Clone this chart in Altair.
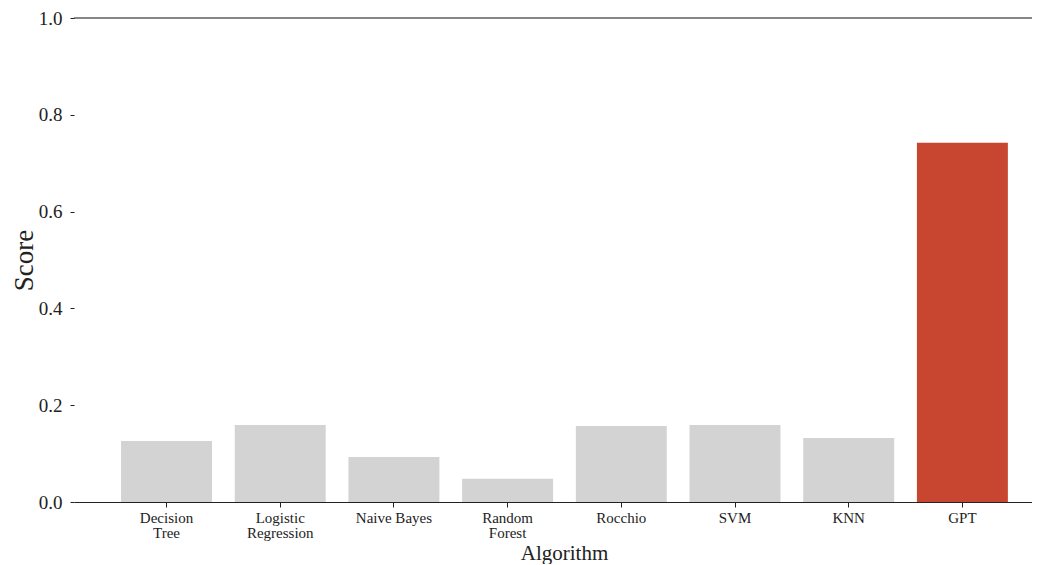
import altair as alt
import pandas as pd

algorithms = ["Decision\nTree", "Logistic\nRegression", "Naive Bayes", "Random\nForest",
              "Rocchio", "SVM", "KNN", "GPT"]
scores = [0.126, 0.159, 0.093, 0.048, 0.157, 0.159, 0.132, 0.742]
colors = ["#d3d3d3"] * 7 + ["#c8452f"]

df = pd.DataFrame({"Algorithm": algorithms, "Score": scores, "color": colors})
top = pd.DataFrame({"y": [1.0]})

FONT = "Liberation Serif"

bars = alt.Chart(df).mark_bar().encode(
    x=alt.X("Algorithm:N", sort=algorithms,
            scale=alt.Scale(paddingInner=0.2, paddingOuter=0.313, align=0.661),
            axis=alt.Axis(title="Algorithm", labelAngle=0,
                          labelExpr="split(datum.label, '\\n')",
                          labelFont=FONT, labelFontSize=15, labelColor="#222",
                          labelLineHeight=15, labelPadding=3,
                          tickSize=5, tickColor="#222", domainColor="#222",
                          titleFont=FONT, titleFontSize=21, titleFontWeight="normal",
                          titleColor="#222", titleX=490, titleAlign="center",
                          titleY=57, titleBaseline="alphabetic")),
    y=alt.Y("Score:Q", scale=alt.Scale(domain=[0, 1.0], nice=False),
            axis=alt.Axis(title="Score", values=[0, 0.2, 0.4, 0.6, 0.8, 1.0],
                          format=".1f", domain=False, grid=False,
                          labelFont=FONT, labelFontSize=19, labelColor="#222",
                          labelPadding=8, tickSize=4, tickColor="#222",
                          titleFont=FONT, titleFontSize=27, titleFontWeight="normal",
                          titleColor="#222", titleX=-42, titleBaseline="alphabetic")),
    color=alt.Color("color:N", scale=None, legend=None),
)

rule = alt.Chart(top).mark_rule(color="#111", strokeWidth=1.2).encode(y="y:Q")

chart = alt.layer(bars, rule).properties(
    width=958, height=484,
    autosize=alt.AutoSizeParams(type="none"),
    padding={"left": 66, "top": 10, "right": 0, "bottom": 62},
).configure_view(stroke=None)

chart.save("out.html", embed_options={"renderer": "svg", "actions": False})
